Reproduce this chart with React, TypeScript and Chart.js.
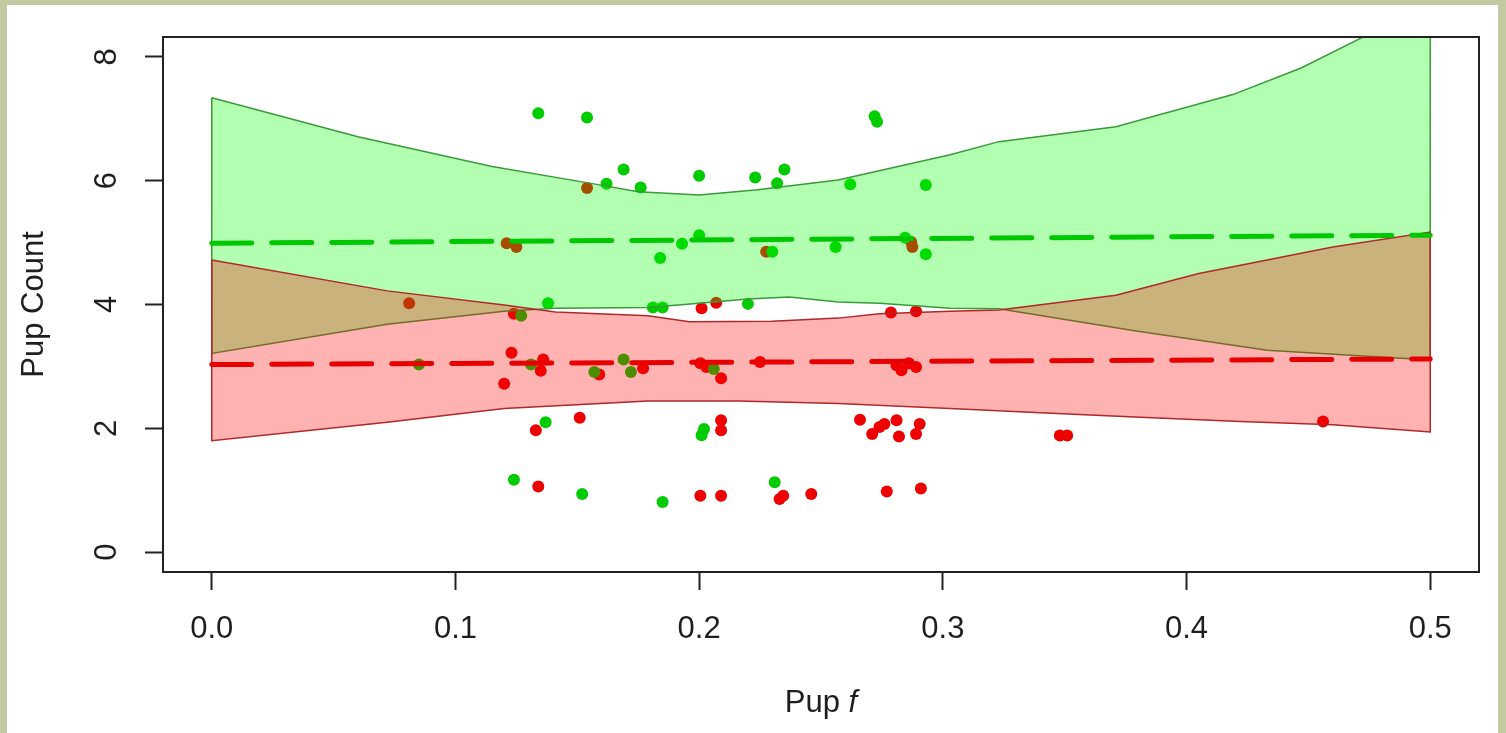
import { useEffect, useRef } from "react";
import { Chart, registerables } from "chart.js";

Chart.register(...registerables);

// ---- Axis ticks ----
const xTicks = [0, 0.1, 0.2, 0.3, 0.4, 0.5];
const yTicks = [0, 2, 4, 6, 8];
const xLimits = [-0.02, 0.52];
const yLimits = [-0.32, 8.32];

// ---- Green observations ----
const greenX = [0.134, 0.154, 0.169, 0.162, 0.176, 0.138, 0.127, 0.085, 0.131, 0.169, 0.172, 0.157, 0.137, 0.124, 0.152,
  0.2, 0.223, 0.235, 0.232, 0.2, 0.193, 0.184, 0.23, 0.181, 0.185, 0.22, 0.206, 0.202, 0.201, 0.231, 0.185,
  0.272, 0.273, 0.262, 0.293, 0.256, 0.2845, 0.293];
const greenY = [7.09, 7.02, 6.18, 5.95, 5.89, 4.02, 3.82, 3.03, 3.03, 3.11, 2.91, 2.91, 2.10, 1.17, 0.94,
  6.08, 6.05, 6.18, 5.96, 5.12, 4.98, 4.75, 4.85, 3.95, 3.95, 4.01, 2.96, 1.99, 1.89, 1.13, 0.81,
  7.04, 6.95, 5.94, 5.93, 4.93, 5.08, 4.81];

// ---- Red observations ----
const redX = [0.154, 0.121, 0.125, 0.081, 0.124, 0.123, 0.12, 0.136, 0.135, 0.159, 0.177, 0.151, 0.133, 0.134,
  0.2275, 0.201, 0.207, 0.2005, 0.203, 0.209, 0.225, 0.209, 0.209, 0.2005, 0.209, 0.233, 0.2345, 0.246,
  0.2875, 0.287, 0.2787, 0.289, 0.281, 0.283, 0.286, 0.289, 0.266, 0.271, 0.274, 0.276, 0.281, 0.282, 0.289, 0.2905,
  0.277, 0.291, 0.348, 0.351, 0.456];
const redY = [5.88, 4.99, 4.93, 4.02, 3.85, 3.22, 2.72, 3.11, 2.93, 2.87, 2.97, 2.17, 1.97, 1.06,
  4.85, 3.94, 4.03, 3.05, 2.99, 2.81, 3.07, 2.13, 1.97, 0.91, 0.91, 0.86, 0.91, 0.94,
  4.93, 5.01, 3.87, 3.89, 3.02, 2.94, 3.05, 2.99, 2.14, 1.91, 2.02, 2.07, 2.13, 1.87, 1.91, 2.07,
  0.98, 1.03, 1.885, 1.885, 2.11];

// ---- Green confidence band ----
const greenUpperX = [0, 0.06, 0.115, 0.155, 0.175, 0.2, 0.223, 0.257, 0.303, 0.323, 0.371, 0.419, 0.447, 0.473, 0.5];
const greenUpperY = [7.34, 6.71, 6.23, 5.96, 5.82, 5.77, 5.85, 6.01, 6.42, 6.63, 6.87, 7.39, 7.82, 8.33, 8.9];
const greenLowerX = [0, 0.072, 0.12, 0.141, 0.179, 0.2, 0.22, 0.237, 0.257, 0.274, 0.303, 0.323, 0.378, 0.433, 0.488, 0.5];
const greenLowerY = [3.21, 3.68, 3.89, 3.94, 3.95, 4.02, 4.09, 4.12, 4.04, 4.02, 3.94, 3.93, 3.58, 3.26, 3.13, 3.11];

// ---- Red confidence band ----
const redUpperX = [0, 0.072, 0.12, 0.141, 0.179, 0.196, 0.23, 0.257, 0.274, 0.303, 0.323, 0.371, 0.405, 0.46, 0.5];
const redUpperY = [4.72, 4.22, 3.99, 3.88, 3.82, 3.72, 3.73, 3.78, 3.85, 3.89, 3.91, 4.15, 4.5, 4.93, 5.17];
const redLowerX = [0, 0.072, 0.12, 0.179, 0.216, 0.257, 0.303, 0.34, 0.381, 0.422, 0.46, 0.5];
const redLowerY = [1.8, 2.1, 2.32, 2.44, 2.44, 2.4, 2.32, 2.25, 2.18, 2.11, 2.06, 1.94];

// ---- Fitted means ----
const greenMeanX = [0, 0.5];
const greenMeanY = [4.99, 5.12];
const redMeanX = [0, 0.5];
const redMeanY = [3.03, 3.12];

const FONT = '"Liberation Sans", Arial, sans-serif';
const TEXT = "#1e1e1e";

const pts = (xs: number[], ys: number[]) => xs.map((x, i) => ({ x, y: ys[i] }));
const polygon = (ux: number[], uy: number[], lx: number[], ly: number[]) => {
  const up = pts(ux, uy);
  const lo = pts(lx, ly).reverse();
  return [...up, ...lo, up[0]];
};

export default function App() {
  const ref = useRef<HTMLCanvasElement>(null);
  useEffect(() => {
    const canvas = ref.current;
    if (!canvas) return;

    const bgPlugin = {
      id: "bg",
      beforeDraw(chart: any) {
        const { ctx, width, height } = chart;
        ctx.save();
        ctx.fillStyle = "#c3c9a1";
        ctx.fillRect(0, 0, width, height);
        ctx.fillStyle = "#ffffff";
        ctx.fillRect(7, 5, 1491, height - 5);
        ctx.restore();
      },
    };
    const boxPlugin = {
      id: "box",
      afterDraw(chart: any) {
        const { ctx, chartArea: a } = chart;
        ctx.save();
        ctx.strokeStyle = "#222222";
        ctx.lineWidth = 2;
        ctx.strokeRect(a.left, a.top, a.right - a.left, a.bottom - a.top);
        ctx.restore();
      },
    };

    const chart = new Chart(canvas, {
      type: "line",
      data: {
        datasets: [
          {
            label: "red",
            data: pts(redX, redY),
            showLine: false,
            pointRadius: 6,
            pointBorderWidth: 0,
            pointBackgroundColor: "rgb(236,0,0)",
            order: 10,
          },
          {
            label: "green",
            data: pts(greenX, greenY),
            showLine: false,
            pointRadius: 6,
            pointBorderWidth: 0,
            pointBackgroundColor: "rgb(0,204,0)",
            order: 9,
          },
          {
            label: "green band",
            data: polygon(greenUpperX, greenUpperY, greenLowerX, greenLowerY),
            fill: "shape",
            backgroundColor: "rgba(0,255,0,0.3)",
            borderColor: "#3a9a3a",
            borderWidth: 1.5,
            pointRadius: 0,
            order: 8,
          },
          {
            label: "red band",
            data: polygon(redUpperX, redUpperY, redLowerX, redLowerY),
            fill: "shape",
            backgroundColor: "rgba(255,0,0,0.3)",
            borderColor: "#b02828",
            borderWidth: 1.5,
            pointRadius: 0,
            order: 7,
          },
          {
            label: "green mean",
            data: pts(greenMeanX, greenMeanY),
            borderColor: "rgb(0,200,0)",
            borderWidth: 5,
            borderDash: [40, 20],
            borderCapStyle: "round",
            pointRadius: 0,
            fill: false,
            order: 6,
          },
          {
            label: "red mean",
            data: pts(redMeanX, redMeanY),
            borderColor: "rgb(232,0,0)",
            borderWidth: 5,
            borderDash: [40, 20],
            borderCapStyle: "round",
            pointRadius: 0,
            fill: false,
            order: 5,
          },
        ],
      },
      options: {
        responsive: false,
        animation: false,
        events: [],
        layout: { padding: { left: 0, top: 37, right: 27, bottom: 0 } },
        plugins: {
          legend: { display: false },
          tooltip: { enabled: false },
        },
        scales: {
          x: {
            type: "linear",
            min: xLimits[0],
            max: xLimits[1],
            afterBuildTicks: (s: any) => {
              s.ticks = xTicks.map((v) => ({ value: v }));
            },
            afterFit: (s: any) => {
              s.height = 161;
              s.paddingLeft = 0;
              s.paddingRight = 0;
            },
            grid: { display: true, drawOnChartArea: false, drawTicks: true, tickLength: 18, tickWidth: 2, tickColor: "#222222" },
            border: { display: false },
            ticks: {
              autoSkip: false,
              maxRotation: 0,
              padding: 21,
              color: TEXT,
              font: { family: FONT, size: 31 },
              callback: (v: any) => Number(v).toFixed(1),
            },
          },
          y: {
            type: "linear",
            min: yLimits[0],
            max: yLimits[1],
            afterBuildTicks: (s: any) => {
              s.ticks = yTicks.map((v) => ({ value: v }));
            },
            afterFit: (s: any) => {
              s.width = 163;
              s.paddingTop = 0;
              s.paddingBottom = 0;
            },
            grid: { display: true, drawOnChartArea: false, drawTicks: true, tickLength: 18, tickWidth: 2, tickColor: "#222222" },
            border: { display: false },
            ticks: {
              autoSkip: false,
              minRotation: 90,
              maxRotation: 90,
              crossAlign: "center",
              padding: 29,
              color: TEXT,
              font: { family: FONT, size: 31 },
              callback: (v: any) => String(v),
            },
            title: {
              display: true,
              text: "Pup Count",
              color: TEXT,
              font: { family: FONT, size: 31 },
              padding: { top: 16, bottom: 0 },
            },
          },
        },
      } as any,
      plugins: [bgPlugin, boxPlugin],
    });
    return () => chart.destroy();
  }, []);

  return (
    <div style={{ position: "fixed", left: 0, top: 0, width: 1506, height: 733, overflow: "hidden" }}>
      <canvas ref={ref} width={1506} height={733} style={{ display: "block" }} />
      <div
        style={{
          position: "absolute",
          left: 163,
          width: 1316,
          top: 686,
          textAlign: "center",
          fontFamily: FONT,
          fontSize: 31,
          lineHeight: "31px",
          color: TEXT,
          whiteSpace: "pre",
        }}
      >
        Pup <i>f</i>
      </div>
    </div>
  );
}
